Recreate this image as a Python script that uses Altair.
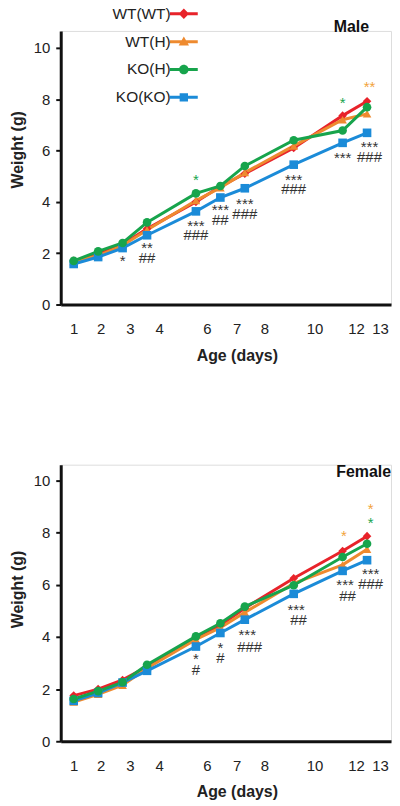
import altair as alt
import pandas as pd

series = ["WT(WT)", "WT(H)", "KO(H)", "KO(KO)"]
colors = ["#e8232a", "#ee8a2f", "#17a44c", "#1b8bd8"]
shapes = ["diamond", "triangle-up", "circle", "square"]
marker_sizes = [75, 75, 100, 64]
line_widths = [3, 3, 3, 3.8]
draw_order = ["WT(WT)", "WT(H)", "KO(KO)", "KO(H)"]
days = [1, 2, 3, 4, 6, 7, 8, 10, 12, 13]
panel_names = ["Male", "Female"]

male_wtwt = [1.70, 1.95, 2.35, 2.95, 4.00, 4.60, 5.10, 6.10, 7.36, 7.92]
male_wth = [1.68, 1.90, 2.30, 2.90, 4.05, 4.55, 5.14, 6.18, 7.20, 7.43]
male_koh = [1.70, 2.07, 2.40, 3.20, 4.33, 4.62, 5.40, 6.40, 6.78, 7.69]
male_koko = [1.58, 1.85, 2.20, 2.70, 3.63, 4.17, 4.53, 5.45, 6.30, 6.69]

female_wtwt = [1.75, 2.00, 2.35, 2.85, 4.00, 4.45, 5.10, 6.25, 7.29, 7.86]
female_wth = [1.50, 1.80, 2.15, 2.80, 3.90, 4.35, 4.94, 6.05, 6.76, 7.36]
female_koh = [1.62, 1.92, 2.26, 2.93, 4.02, 4.52, 5.16, 5.98, 7.06, 7.57]
female_koko = [1.55, 1.85, 2.25, 2.70, 3.63, 4.15, 4.66, 5.65, 6.53, 6.94]

# significance marks: (day, weight position, text, colour)
dark = "#333333"
green_star = "#17a44c"
orange_star = "#f2a33a"
male_notes = [
    (3, 1.49, "*", dark),
    (4, 2.02, "**", dark), (4, 1.62, "##", dark),
    (6, 4.64, "*", green_star), (6, 2.86, "***", dark), (6, 2.52, "###", dark),
    (7, 3.48, "***", dark), (7, 3.10, "##", dark),
    (8, 3.74, "***", dark), (8, 3.32, "###", dark),
    (10, 4.67, "***", dark), (10, 4.30, "###", dark),
    (12, 7.64, "*", green_star), (12, 5.51, "***", dark),
    (13.1, 8.29, "**", orange_star), (13.1, 5.96, "***", dark), (13.1, 5.57, "###", dark),
]
female_notes = [
    (6, 2.96, "*", dark), (6, 2.54, "#", dark),
    (7, 3.37, "*", dark), (7, 3.00, "#", dark),
    (8.1, 3.88, "***", dark), (8.2, 3.42, "###", dark),
    (10.1, 4.85, "***", dark), (10.2, 4.44, "##", dark),
    (12.05, 7.66, "*", orange_star), (12.1, 5.79, "***", dark), (12.2, 5.39, "##", dark),
    (13.15, 8.72, "*", orange_star), (13.15, 8.19, "*", green_star),
    (13.15, 6.21, "***", dark), (13.15, 5.84, "###", dark),
]

tick_values = [1, 2.1, 3.3, 4.5, 6.45, 7.67, 8.8, 10.85, 12.55, 13.53]
tick_labels = ["1", "2", "3", "4", "6", "7", "8", "10", "12", "13"]
y_ticks = [0, 2, 4, 6, 8, 10]

FONT = "Liberation Sans"
WIDTH = 332

# legend symbols: a short line with the marker on it
_line = "M-7,-0.75L7,-0.75L7,0.75L-7,0.75Z"
legend_paths = [
    _line + "M0,-2.6L2.6,0L0,2.6L-2.6,0Z",
    _line + "M0,-2.6L2.6,1.9L-2.6,1.9Z",
    _line + "M-2.4,0A2.4,2.4,0,1,1,2.4,0A2.4,2.4,0,1,1,-2.4,0Z",
    _line + "M-2.1,-2.1L2.1,-2.1L2.1,2.1L-2.1,2.1Z",
]


def make_df(cols):
    rows = []
    for name in draw_order:
        vals = cols[series.index(name)]
        for d, v in zip(days, vals):
            rows.append({"series": name, "day": d, "weight": v})
    return pd.DataFrame(rows)


def make_notes(notes):
    return pd.DataFrame(
        [{"day": d, "weight": w, "text": t, "tone": c} for d, w, t, c in notes]
    )


label_map = "{" + ",".join(f"'{v}':'{l}'" for v, l in zip(tick_values, tick_labels)) + "}"


def panel(df, notes_df, height, ymax, name, name_x, name_y, ytitle_y, show_legend):
    xscale = alt.Scale(domain=[0.47, 13.98], nice=False, zero=False)
    yscale = alt.Scale(domain=[0, ymax], nice=False, zero=True)
    x = alt.X(
        "day:Q", scale=xscale,
        axis=alt.Axis(
            values=tick_values, labelExpr=label_map + "['' + datum.value]",
            title="Age (days)", grid=False, ticks=False, tickSize=0,
            labelPadding=17, titlePadding=11, domainWidth=3, domainColor="#111111",
            labelFontSize=15, labelFont=FONT, labelColor="#222222",
            titleFontSize=16, titleFont=FONT, titleFontWeight="bold", titleColor="#222222",
            titleX=177, labelFlush=False, labelOverlap=False,
        ),
    )
    y = alt.Y(
        "weight:Q", scale=yscale,
        axis=alt.Axis(
            values=y_ticks, title="Weight (g)", grid=False, tickSize=5, tickWidth=2,
            tickColor="#111111", labelPadding=6, domainWidth=3, domainColor="#111111",
            labelFontSize=15, labelFont=FONT, labelColor="#222222",
            titleFontSize=16, titleFont=FONT, titleFontWeight="bold", titleColor="#222222",
            titlePadding=8, titleY=ytitle_y,
        ),
    )
    color_scale = alt.Scale(domain=series, range=colors)
    base = alt.Chart(df)
    lines = base.mark_line().encode(
        x=x, y=y, color=alt.Color("series:N", scale=color_scale, legend=None),
        strokeWidth=alt.StrokeWidth(
            "series:N", scale=alt.Scale(domain=series, range=line_widths), legend=None
        ),
    )
    points = base.mark_point(filled=True, opacity=1, strokeWidth=0).encode(
        x=x, y=y,
        color=alt.Color("series:N", scale=color_scale, legend=None),
        shape=alt.Shape("series:N", scale=alt.Scale(domain=series, range=shapes), legend=None),
        size=alt.Size("series:N", scale=alt.Scale(domain=series, range=marker_sizes), legend=None),
    )
    notes = alt.Chart(notes_df).mark_text(
        fontSize=15, font=FONT, baseline="alphabetic", align="center"
    ).encode(
        x=x, y=y, text="text:N", color=alt.Color("tone:N", scale=None),
    )
    label = alt.Chart(pd.DataFrame({"name": [name]})).mark_text(
        fontSize=16, font=FONT, fontWeight="bold", align="right",
        baseline="alphabetic", color="#111111",
    ).encode(x=alt.value(name_x), y=alt.value(name_y), text="name:N")
    layers = [lines, points, notes, label]
    if show_legend:
        leg = alt.Legend(
            orient="none", legendX=116, legendY={"expr": "-25"}, title=None,
            labelAlign="right", labelOffset={"expr": "-21"}, labelFontSize=15.5, labelFont=FONT,
            labelColor="#222222", symbolSize=16, symbolStrokeWidth=0,
            symbolOpacity=1, rowPadding=11, padding=0, symbolOffset=0,
        )
        legend_layer = base.mark_point(filled=True, opacity=1).encode(
            x=x, y=y,
            color=alt.Color("series:N", scale=color_scale, legend=leg),
            shape=alt.Shape(
                "series:N", scale=alt.Scale(domain=series, range=legend_paths), legend=leg
            ),
        ).transform_filter("false")
        layers.append(legend_layer)
    return alt.layer(*layers).resolve_scale(
        color="independent", shape="independent", size="independent",
        strokeWidth="independent",
    ).properties(width=WIDTH, height=height)


male_df = make_df([male_wtwt, male_wth, male_koh, male_koko])
female_df = make_df([female_wtwt, female_wth, female_koh, female_koko])

top = panel(male_df, make_notes(male_notes), 275, 10.66, panel_names[0], 310, 1, 119, True)
bottom = panel(female_df, make_notes(female_notes), 278, 10.6, panel_names[1], 332, 12.5, 125, False)

chart = alt.vconcat(top, bottom, spacing=100).properties(
    padding={"left": 0, "top": -5, "right": 0, "bottom": 0}
).configure_view(stroke=None).configure(font=FONT)

chart.save("out.html", embed_options={"renderer": "svg", "actions": False})
